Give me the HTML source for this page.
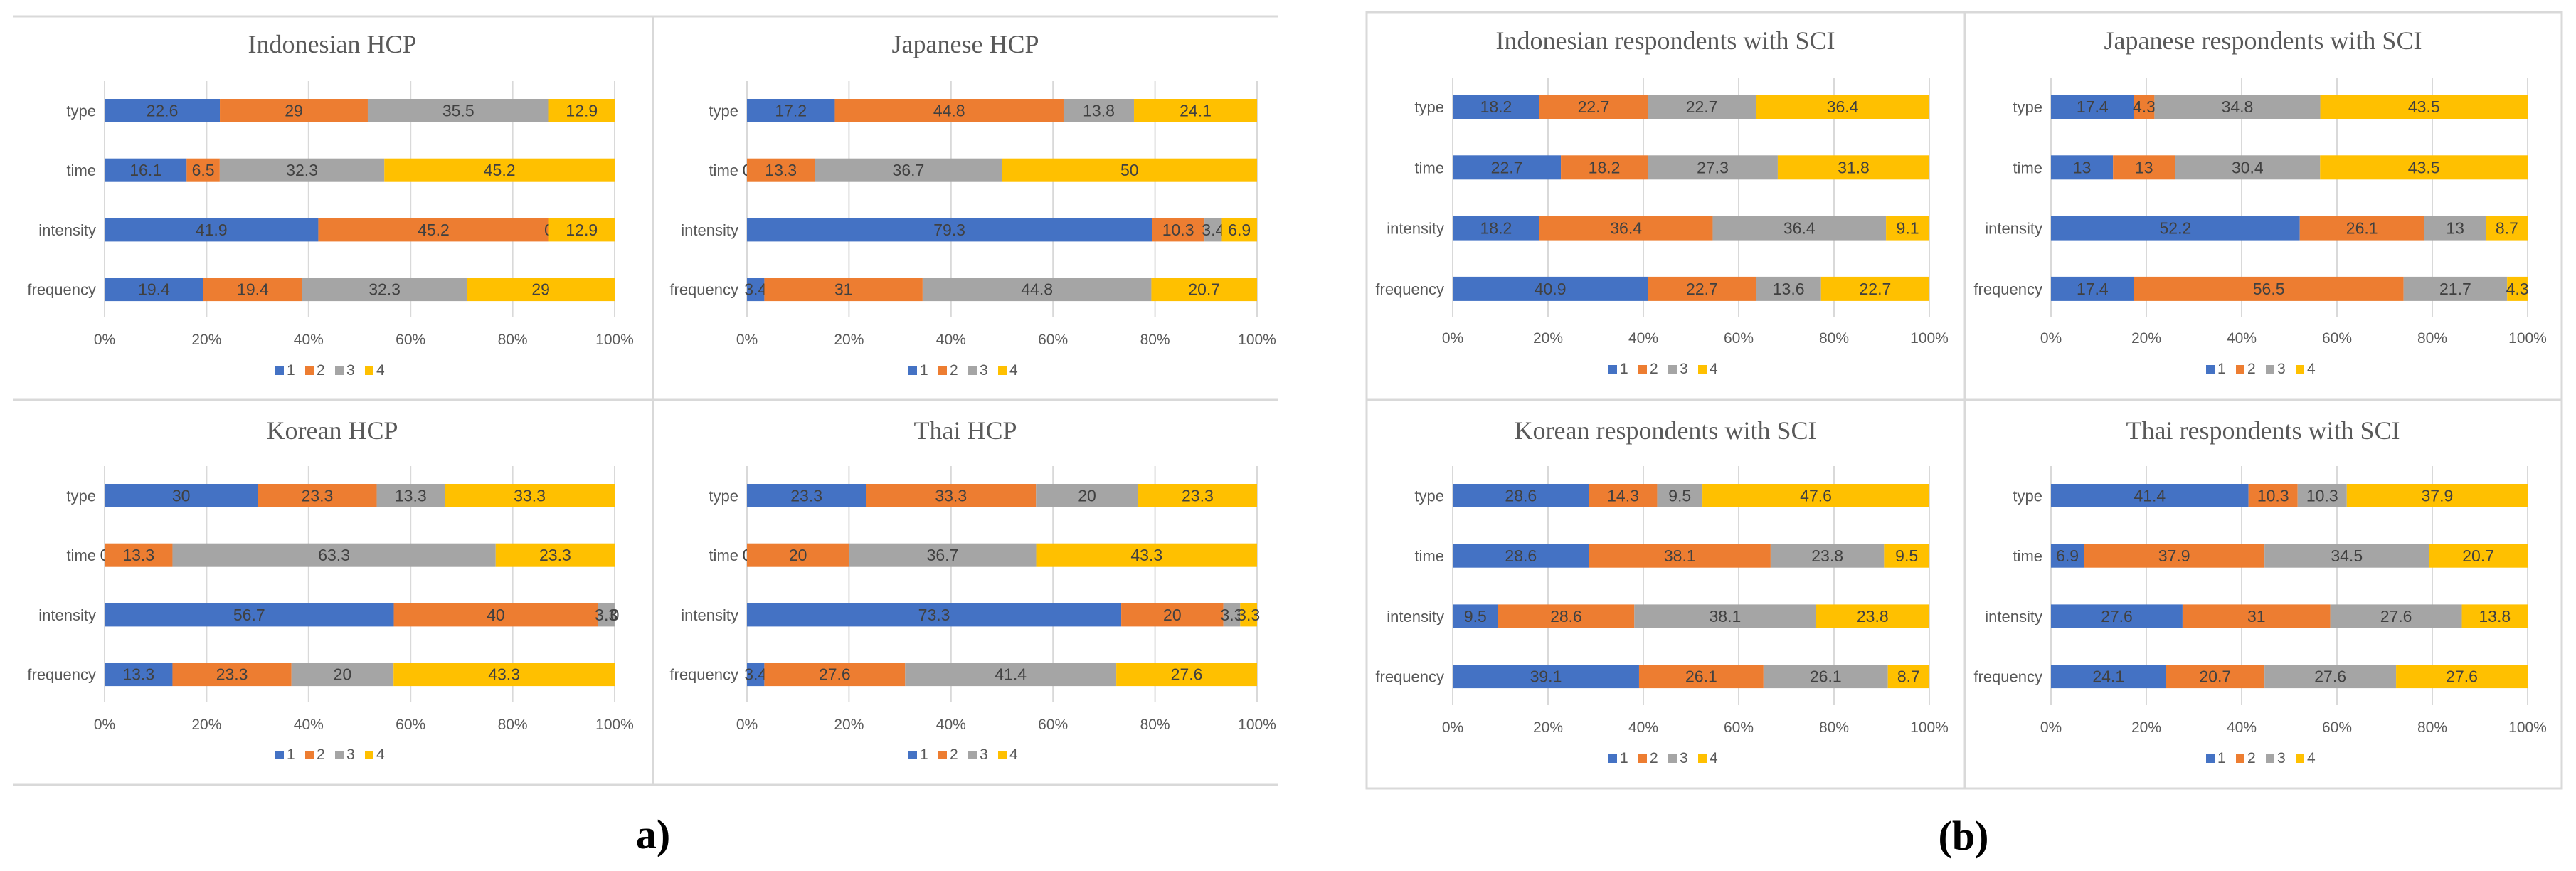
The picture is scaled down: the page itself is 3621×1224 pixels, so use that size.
<!DOCTYPE html>
<html><head><meta charset="utf-8">
<style>
html,body{margin:0;padding:0;background:#fff;}
body{width:3621px;height:1224px;overflow:hidden;}
svg{display:block;}
.ttl{font-family:"Liberation Serif",serif;font-size:36px;fill:#595959;}
.tick{font-family:"Liberation Sans Narrow","Liberation Sans",sans-serif;font-size:21px;fill:#595959;}
.cat{font-family:"Liberation Sans Narrow","Liberation Sans",sans-serif;font-size:22px;fill:#595959;}
.val{font-family:"Liberation Sans Narrow","Liberation Sans",sans-serif;font-size:23px;fill:#404040;}
.lbl{font-family:"Liberation Serif",serif;font-size:58px;font-weight:bold;fill:#000;}
</style></head>
<body>
<svg id="chart" width="3621" height="1224" viewBox="0 0 3621 1224" xmlns="http://www.w3.org/2000/svg">
  <g stroke="#d9d9d9" stroke-width="3" fill="none">
    <line x1="18" y1="23" x2="1797" y2="23"/>
    <line x1="18" y1="562" x2="1797" y2="562"/>
    <line x1="18" y1="1103" x2="1797" y2="1103"/>
    <line x1="918" y1="23" x2="918" y2="1103"/>
  </g>
  <g stroke="#d9d9d9" stroke-width="3" fill="none">
    <rect x="1921" y="17" width="1680" height="1091"/>
    <line x1="1921" y1="562" x2="3601" y2="562"/>
    <line x1="2762" y1="17" x2="2762" y2="1108"/>
  </g>
  <text class="lbl" x="918" y="1192" text-anchor="middle">a)</text>
  <text class="lbl" x="2760" y="1194" text-anchor="middle">(b)</text>
</svg>
<script>
const categories = ["type", "time", "intensity", "frequency"];
const seriesNames = ["1", "2", "3", "4"];
const tickLabels = ["0%", "20%", "40%", "60%", "80%", "100%"];
const tickValues = [0, 20, 40, 60, 80, 100];
const titles = ["Indonesian HCP", "Japanese HCP", "Korean HCP", "Thai HCP",
  "Indonesian respondents with SCI", "Japanese respondents with SCI",
  "Korean respondents with SCI", "Thai respondents with SCI"];
// values per chart: rows = categories (type,time,intensity,frequency), cols = series 1..4
const indonesianHCP = [[22.6,29,35.5,12.9],[16.1,6.5,32.3,45.2],[41.9,45.2,0,12.9],[19.4,19.4,32.3,29]];
const japaneseHCP = [[17.2,44.8,13.8,24.1],[0,13.3,36.7,50],[79.3,10.3,3.4,6.9],[3.4,31,44.8,20.7]];
const koreanHCP = [[30,23.3,13.3,33.3],[0,13.3,63.3,23.3],[56.7,40,3.3,0],[13.3,23.3,20,43.3]];
const thaiHCP = [[23.3,33.3,20,23.3],[0,20,36.7,43.3],[73.3,20,3.3,3.3],[3.4,27.6,41.4,27.6]];
const indonesianSCI = [[18.2,22.7,22.7,36.4],[22.7,18.2,27.3,31.8],[18.2,36.4,36.4,9.1],[40.9,22.7,13.6,22.7]];
const japaneseSCI = [[17.4,4.3,34.8,43.5],[13,13,30.4,43.5],[52.2,26.1,13,8.7],[17.4,56.5,21.7,4.3]];
const koreanSCI = [[28.6,14.3,9.5,47.6],[28.6,38.1,23.8,9.5],[9.5,28.6,38.1,23.8],[39.1,26.1,26.1,8.7]];
const thaiSCI = [[41.4,10.3,10.3,37.9],[6.9,37.9,34.5,20.7],[27.6,31,27.6,13.8],[24.1,20.7,27.6,27.6]];

const allData = [indonesianHCP, japaneseHCP, koreanHCP, thaiHCP, indonesianSCI, japaneseSCI, koreanSCI, thaiSCI];
const colors = ["#4472C4", "#ED7D31", "#A5A5A5", "#FFC000"];
const NS = "http://www.w3.org/2000/svg";
const svg = document.getElementById("chart");

function layout(i) {
  const left = i < 4;
  const col = i % 2, row = Math.floor((i % 4) / 2);
  if (left) {
    return {cx: col ? 1357 : 467, titleY: row ? 617 : 74,
      x0: col ? 1050 : 147, x1: col ? 1767 : 864,
      gTop: row ? 655 : 114, gBot: row ? 987 : 446,
      bar0: row ? 680 : 139, step: 83.7, bh: 33,
      tickY: row ? 1025 : 484, legY: row ? 1067 : 527};
  }
  return {cx: col ? 3181 : 2341, titleY: row ? 617 : 69,
    x0: col ? 2883 : 2042, x1: col ? 3553 : 2712,
    gTop: row ? 655 : 109, gBot: row ? 991 : 446,
    bar0: row ? 680 : 133, step: row ? 84.7 : 85.3, bh: row ? 33 : 34,
    tickY: row ? 1029 : 482, legY: row ? 1072 : 525};
}

function el(tag, attrs, parent) {
  const e = document.createElementNS(NS, tag);
  for (const k in attrs) e.setAttribute(k, attrs[k]);
  parent.appendChild(e);
  return e;
}

allData.forEach((data, i) => {
  const L = layout(i);
  const g = el("g", {}, svg);
  
  
  const xs = v => L.x0 + (L.x1 - L.x0) * v / 100;

  const t = el("text", {x: L.cx, y: L.titleY, "text-anchor": "middle", class: "ttl"}, g);
  
  
  t.textContent = titles[i];

  tickValues.forEach((tv, k) => {
    const gl = el("line", {x1: xs(tv), x2: xs(tv), y1: L.gTop, y2: L.gBot, stroke: "#d9d9d9", "stroke-width": 2}, g);
    
    
    const tl = el("text", {x: xs(tv), y: L.tickY, "text-anchor": "middle", class: "tick"}, g);
    
    
    tl.textContent = tickLabels[k];
  });

  data.forEach((row, r) => {
    const total = row.reduce((a, b) => a + b, 0);
    const y = L.bar0 + r * L.step;
    const cl = el("text", {x: L.x0 - 12, y: y + L.bh / 2 + 8, "text-anchor": "end", class: "cat"}, g);
    
    
    cl.textContent = categories[r];
    let acc = 0;
    row.forEach((v, s) => {
      const a = xs(acc / total * 100), b = xs((acc + v) / total * 100);
      const rc = el("rect", {x: a, y: y, width: Math.max(0, b - a), height: L.bh, fill: colors[s]}, g);
      
      
      const vl = el("text", {x: (a + b) / 2, y: y + L.bh / 2 + 8, "text-anchor": "middle", class: "val"}, g);
      
      
      vl.textContent = String(v);
      acc += v;
    });
  });

  const legW = 160, lx = L.cx - legW / 2;
  seriesNames.forEach((n, s) => {
    const sq = el("rect", {x: lx + s * 42, y: L.legY - 12, width: 12, height: 12, fill: colors[s]}, g);
    
    
    const lt = el("text", {x: lx + s * 42 + 16, y: L.legY, class: "tick"}, g);
    
    
    lt.textContent = n;
  });
});
</script>
</body></html>
